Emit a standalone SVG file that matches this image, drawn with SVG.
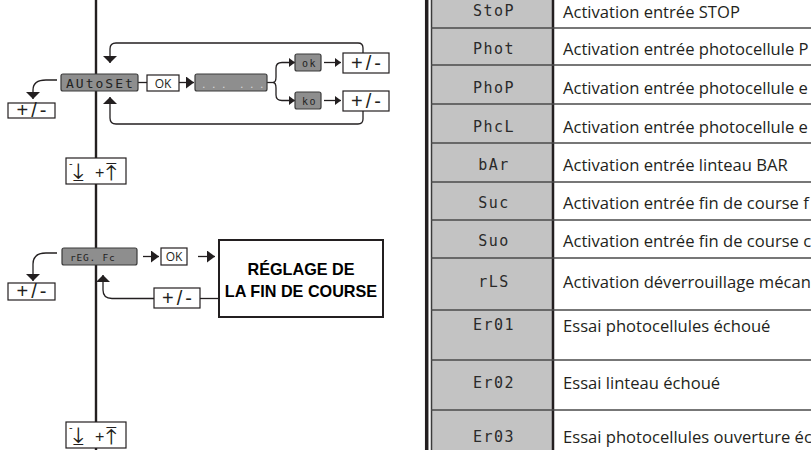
<svg xmlns="http://www.w3.org/2000/svg" width="811" height="450" viewBox="0 0 811 450">
<style>
.ln{fill:none;stroke:#231f20;stroke-width:1.3}
.bx{fill:#fff;stroke:#231f20;stroke-width:1.2}
.gb{fill:#8e8e8e;stroke:#3a3a3a;stroke-width:1.2}
.seg{font-family:"DejaVu Sans Mono",monospace;fill:#222}
.pm{font-family:"Liberation Sans",Arial,sans-serif;font-size:20px;letter-spacing:3px;fill:#231f20;text-anchor:middle}
.ok{font-family:"Open Sans",sans-serif;font-size:12px;fill:#231f20;text-anchor:middle}
.big{font-family:"Liberation Sans",Arial,sans-serif;font-weight:bold;font-size:16.2px;fill:#000;text-anchor:middle}
.ud{font-family:"DejaVu Sans",sans-serif;fill:#231f20}
.pl{font-family:"Liberation Sans",Arial,sans-serif;fill:#231f20}
.td{font-family:"Open Sans",sans-serif;font-size:16.6px;fill:#231f20}
.tc{font-family:"DejaVu Sans Mono",monospace;font-size:15px;letter-spacing:1.5px;fill:#2a2a2a;text-anchor:middle}
.rl{stroke:#4a4a4a;stroke-width:1.5}
</style>
<defs>
<marker id="ah" viewBox="0 0 7 14" refX="7" refY="7" markerWidth="7" markerHeight="14" markerUnits="userSpaceOnUse" orient="auto"><path d="M0,0 L7,7 L0,14 z" fill="#231f20"/></marker>
<marker id="am" viewBox="0 0 8 12" refX="8" refY="6" markerWidth="8" markerHeight="12" markerUnits="userSpaceOnUse" orient="auto"><path d="M0,0 L8,6 L0,12 z" fill="#231f20"/></marker>
<marker id="as" viewBox="0 0 6 9" refX="6" refY="4.5" markerWidth="6" markerHeight="9" markerUnits="userSpaceOnUse" orient="auto"><path d="M0,0 L6,4.5 L0,9 z" fill="#231f20"/></marker>
</defs>
<rect width="811" height="450" fill="#fff"/>

<!-- main vertical line -->
<g id="spine"><path d="M96,0 V450" stroke="#231f20" stroke-width="2.4"/></g>

<!-- connectors -->
<g id="connectors" class="ln">
<path d="M363,53 V48 Q363,43 358,43 H116 Q110,43 110,49 V63" marker-end="url(#ah)"/>
<path d="M363,111 V119 Q363,124 358,124 H116 Q110,124 110,118 V97" marker-end="url(#ah)"/>
<path d="M138,82.5 H147"/>
<path d="M179,82.5 H194" marker-end="url(#am)"/>
<path d="M267,82.5 H273"/>
<path d="M273,82.5 Q276,82.5 276,77 V68 Q276,62.5 282,62.5 H295" marker-end="url(#as)"/>
<path d="M273,82.5 Q276,82.5 276,88 V95 Q276,100.5 282,100.5 H295" marker-end="url(#as)"/>
<path d="M324,62.5 H341" marker-end="url(#as)"/>
<path d="M324,100.5 H341" marker-end="url(#as)"/>
<path d="M57,80 H46 Q33,80 33,90 V99" marker-end="url(#ah)"/>
<path d="M143,256.5 H159" marker-end="url(#am)"/>
<path d="M198,256.5 H215" marker-end="url(#am)"/>
<path d="M219,298.5 H200"/>
<path d="M154,298.5 H112 Q103,298.5 103,290 V275" marker-end="url(#ah)"/>
<path d="M57,253 H46 Q33,253 33,264 V281" marker-end="url(#ah)"/>
</g>

<!-- AUTOSET section -->
<g id="autoset"><rect class="gb" x="61" y="74" width="77" height="17" rx="2"/><text class="seg" x="66" y="87.5" font-size="13" letter-spacing="2">AUtoSEt</text></g>
<g id="ok1"><rect class="bx" x="147" y="75" width="32" height="16"/><text class="ok" x="163" y="87.5">OK</text></g>
<g id="dots"><rect class="gb" x="195" y="74" width="72" height="17" rx="2"/><text x="202 212 222 240 250 260" y="88" font-family="DejaVu Sans,sans-serif" font-size="11" fill="#d8d8d8">......</text></g>
<g id="okres"><rect class="gb" x="295" y="54" width="26" height="17" rx="2"/><text class="seg" x="302" y="66.5" font-size="10" letter-spacing="1.5">ok</text></g>
<g id="kores"><rect class="gb" x="295" y="92" width="26" height="17" rx="2"/><text class="seg" x="302" y="104.5" font-size="10" letter-spacing="1.5">ko</text></g>
<g id="pm1"><rect class="bx" x="343" y="53" width="46" height="20"/><text class="pm" x="367.5" y="69.5">+/-</text></g>
<g id="pm2"><rect class="bx" x="343" y="91" width="46" height="20"/><text class="pm" x="367.5" y="107.5">+/-</text></g>
<g id="pm3"><rect class="bx" x="8" y="103" width="47" height="15"/><text class="pm" x="33" y="117">+/-</text></g>

<g id="nav1"><rect class="bx" x="66" y="158" width="60" height="26"/>
<text class="ud" x="69" y="167" font-size="10">-</text>
<text class="ud" x="73" y="180" font-size="24">⤓</text>
<text class="pl" x="95" y="178" font-size="16">+</text>
<text class="ud" x="106" y="180" font-size="24">⤒</text></g>

<!-- REG FC section -->
<g id="regfc"><rect class="gb" x="62" y="248" width="75" height="17" rx="2"/><text class="seg" x="70" y="260.5" font-size="9.5" letter-spacing="0.8">rEG. Fc</text></g>
<g id="ok2"><rect class="bx" x="161" y="248" width="26" height="17"/><text class="ok" x="174" y="260.5">OK</text></g>
<g id="reglage"><rect x="219" y="240" width="164" height="77" fill="#fff" stroke="#231f20" stroke-width="2"/><text class="big" x="301" y="275">RÉGLAGE DE</text><text class="big" x="301" y="297">LA FIN DE COURSE</text></g>
<g id="pm4"><rect class="bx" x="154" y="288" width="46" height="20"/><text class="pm" x="178.5" y="304.5">+/-</text></g>
<g id="pm5"><rect class="bx" x="8" y="283" width="47" height="17"/><text class="pm" x="33" y="298">+/-</text></g>

<g id="nav2"><rect class="bx" x="66" y="422" width="60" height="26"/>
<text class="ud" x="69" y="431" font-size="10">-</text>
<text class="ud" x="73" y="444" font-size="24">⤓</text>
<text class="pl" x="95" y="442" font-size="16">+</text>
<text class="ud" x="106" y="444" font-size="24">⤒</text></g>

<!-- table -->
<g id="table">
<rect x="432" y="0" width="121" height="450" fill="#c3c3c3"/>
<path d="M426.7,0 V450" stroke="#231f20" stroke-width="3.5"/>
<path d="M431.5,0 V450" stroke="#3a3a3a" stroke-width="1.5"/>
<path d="M553,0 V450" stroke="#231f20" stroke-width="2.5"/>
<g class="rl">
<path d="M431,28 H811"/><path d="M431,65 H811"/><path d="M431,104 H811"/><path d="M431,143 H811"/><path d="M431,182 H811"/><path d="M431,220 H811"/><path d="M431,258 H811"/><path d="M431,310 H811"/><path d="M431,360 H811"/><path d="M431,410 H811"/>
</g>
<g id="r1"><text class="tc" x="494" y="16">StoP</text><text class="td" x="563" y="17.5">Activation entrée STOP</text></g>
<g id="r2"><text class="tc" x="494" y="53.5">Phot</text><text class="td" x="563" y="55">Activation entrée photocellule P</text></g>
<g id="r3"><text class="tc" x="494" y="92.5">PhoP</text><text class="td" x="563" y="94">Activation entrée photocellule e</text></g>
<g id="r4"><text class="tc" x="494" y="131.5">PhcL</text><text class="td" x="563" y="133">Activation entrée photocellule e</text></g>
<g id="r5"><text class="tc" x="494" y="169.5">bAr</text><text class="td" x="563" y="171">Activation entrée linteau BAR</text></g>
<g id="r6"><text class="tc" x="494" y="207.5">Suc</text><text class="td" x="563" y="209">Activation entrée fin de course f</text></g>
<g id="r7"><text class="tc" x="494" y="245.5">Suo</text><text class="td" x="563" y="247">Activation entrée fin de course c</text></g>
<g id="r8"><text class="tc" x="494" y="286.5">rLS</text><text class="td" x="563" y="288">Activation déverrouillage mécan</text></g>
<g id="r9"><text class="tc" x="494" y="330">Er01</text><text class="td" x="563" y="331.5">Essai photocellules échoué</text></g>
<g id="r10"><text class="tc" x="494" y="387.5">Er02</text><text class="td" x="563" y="389">Essai linteau échoué</text></g>
<g id="r11"><text class="tc" x="494" y="441.5">Er03</text><text class="td" x="563" y="443">Essai photocellules ouverture éc</text></g>
</g>
</svg>
